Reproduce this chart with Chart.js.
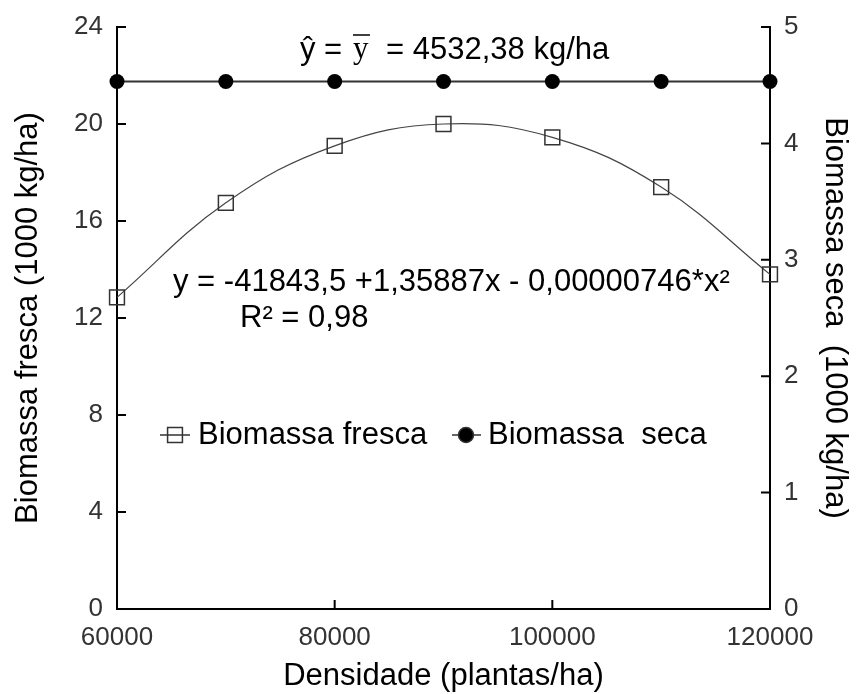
<!DOCTYPE html>
<html>
<head>
<meta charset="utf-8">
<script src="https://cdn.jsdelivr.net/npm/chart.js@4/dist/chart.umd.min.js"></script>
<style>
  html, body { margin: 0; padding: 0; background: #fff; }
  #wrap { width: 860px; height: 694px; }
</style>
</head>
<body>
<div id="wrap"><canvas id="chart"></canvas></div>
<script>
var densidade = [60000, 70000, 80000, 90000, 100000, 110000, 120000];
var biomassaFresca = [12.85, 16.75, 19.1, 20.0, 19.45, 17.4, 13.8];
var biomassaSeca = [4.532, 4.532, 4.532, 4.532, 4.532, 4.532, 4.532];
var xTicks = [60000, 80000, 100000, 120000];
var leftTicks = [0, 4, 8, 12, 16, 20, 24];
var rightTicks = [0, 1, 2, 3, 4, 5];

var FONT = '"Liberation Sans", Arial, sans-serif';

function toPoints(xs, ys) {
    var pts = [];
    for (var i = 0; i < xs.length; i++) {
        pts.push({ x: xs[i], y: ys[i] });
    }
    return pts;
}

// ticks drawn toward the inside of the plot
var innerTicks = {
    id: "innerTicks",
    afterDatasetsDraw: function (chart) {
        var ctx = chart.ctx;
        var area = chart.chartArea;
        var len = 9;
        ctx.save();
        ctx.strokeStyle = "#000";
        ctx.lineWidth = 2;
        ctx.beginPath();
        chart.scales.x.ticks.forEach(function (t) {
            var px = chart.scales.x.getPixelForValue(t.value);
            ctx.moveTo(px, area.bottom);
            ctx.lineTo(px, area.bottom - len);
        });
        chart.scales.y.ticks.forEach(function (t) {
            var py = chart.scales.y.getPixelForValue(t.value);
            ctx.moveTo(area.left, py);
            ctx.lineTo(area.left + len, py);
        });
        chart.scales.y2.ticks.forEach(function (t) {
            var py = chart.scales.y2.getPixelForValue(t.value);
            ctx.moveTo(area.right, py);
            ctx.lineTo(area.right - len, py);
        });
        ctx.stroke();
        ctx.restore();
    }
};

// legend and equations written inside the plot
var notes = {
    id: "notes",
    afterDraw: function (chart) {
        var ctx = chart.ctx;
        var h = Chart.helpers;
        ctx.save();
        ctx.textBaseline = "middle";
        ctx.textAlign = "left";

        // legend
        var ly = 435;
        ctx.strokeStyle = "#333";
        ctx.lineWidth = 1.5;
        ctx.beginPath();
        ctx.moveTo(160, ly); ctx.lineTo(190, ly);
        ctx.moveTo(452, ly); ctx.lineTo(481, ly);
        ctx.stroke();
        ctx.fillStyle = "rgba(0,0,0,0)";
        h.drawPoint(ctx, { pointStyle: "rect", radius: 10.5, borderWidth: 1.5 }, 175, ly);
        ctx.fillStyle = "#000";
        h.drawPoint(ctx, { pointStyle: "circle", radius: 7.5, borderWidth: 1 }, 466, ly);
        ctx.font = "31px " + FONT;
        ctx.fillText("Biomassa fresca", 198, ly);
        ctx.fillText("Biomassa  seca", 488, ly);

        // regression
        ctx.fillText("y = -41843,5 +1,35887x - 0,00000746*x\u00b2", 173, 282);
        ctx.fillText("R\u00b2 = 0,98", 240, 318);

        // mean of dry biomass
        var my = 50;
        ctx.fillText("\u0177 =", 300, my);
        ctx.font = "31px \"Liberation Serif\", \"Times New Roman\", serif";
        ctx.fillText("y", 353, my);
        ctx.lineWidth = 1.5;
        ctx.strokeStyle = "#000";
        ctx.beginPath();
        ctx.moveTo(353, my - 15); ctx.lineTo(370, my - 15);
        ctx.stroke();
        ctx.font = "31px " + FONT;
        ctx.fillText("= 4532,38 kg/ha", 386, my);
        ctx.restore();
    }
};

var tickFont = { family: FONT, size: 26, lineHeight: 1 };
var titleFont = { family: FONT, size: 31, lineHeight: 1 };

new Chart(document.getElementById("chart"), {
    type: "line",
    data: {
        datasets: [
            {
                label: "Biomassa fresca",
                data: toPoints(densidade, biomassaFresca),
                yAxisID: "y",
                borderColor: "#444",
                borderWidth: 1.2,
                tension: 0.4,
                pointStyle: "rect",
                pointRadius: 10.5,
                pointBorderWidth: 1.5,
                pointBorderColor: "#333",
                pointBackgroundColor: "rgba(0,0,0,0)",
                clip: false
            },
            {
                label: "Biomassa seca",
                data: toPoints(densidade, biomassaSeca),
                yAxisID: "y2",
                borderColor: "#333",
                borderWidth: 2,
                tension: 0,
                pointStyle: "circle",
                pointRadius: 7.5,
                pointBorderWidth: 0,
                pointBackgroundColor: "#000",
                clip: false
            }
        ]
    },
    options: {
        responsive: true,
        maintainAspectRatio: false,
        animation: false,
        layout: { padding: { top: 27, left: 0, right: 0, bottom: 0 } },
        plugins: {
            legend: { display: false },
            tooltip: { enabled: false }
        },
        scales: {
            x: {
                type: "linear",
                position: "bottom",
                min: 60000,
                max: 120000,
                afterBuildTicks: function (scale) {
                    scale.ticks = xTicks.map(function (v) { return { value: v }; });
                },
                afterFit: function (scale) { scale.height = 85; },
                ticks: { font: tickFont, color: "#333", padding: 16, maxRotation: 0,
                    callback: function (v) { return String(v); } },
                grid: { display: false, drawTicks: false },
                border: { display: true, color: "#000", width: 2 },
                title: { display: true, text: "Densidade (plantas/ha)", font: titleFont,
                    color: "#000", padding: { top: 0, bottom: 2 } }
            },
            y: {
                type: "linear",
                position: "left",
                min: 0,
                max: 24,
                afterBuildTicks: function (scale) {
                    scale.ticks = leftTicks.map(function (v) { return { value: v }; });
                },
                afterFit: function (scale) { scale.width = 117; },
                ticks: { font: tickFont, color: "#333", padding: 14 },
                grid: { display: false, drawTicks: false },
                border: { display: true, color: "#000", width: 2 },
                title: { display: true, text: "Biomassa fresca (1000 kg/ha)", font: titleFont,
                    color: "#000", padding: { top: 13, bottom: 0 } }
            },
            y2: {
                type: "linear",
                position: "right",
                min: 0,
                max: 5,
                afterBuildTicks: function (scale) {
                    scale.ticks = rightTicks.map(function (v) { return { value: v }; });
                },
                afterFit: function (scale) { scale.width = 90; },
                ticks: { font: tickFont, color: "#333", padding: 14 },
                grid: { display: false, drawTicks: false },
                border: { display: true, color: "#000", width: 2 },
                title: { display: true, text: "Biomassa seca  (1000 kg/ha)", font: titleFont,
                    color: "#000", padding: { top: 10, bottom: 0 } }
            }
        }
    },
    plugins: [innerTicks, notes]
});
</script>
</body>
</html>
